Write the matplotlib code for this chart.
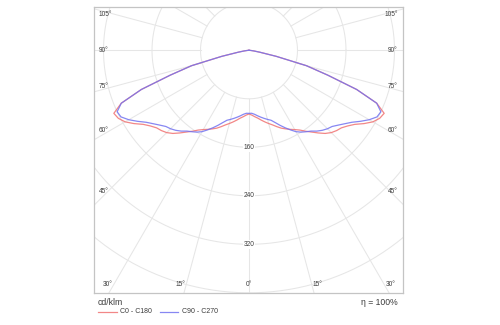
import numpy as np
import matplotlib
matplotlib.use("Agg")
import matplotlib.pyplot as plt
from matplotlib import font_manager
from matplotlib.lines import Line2D

# Luminous intensity distribution (cd/klm), half-planes are symmetric
gamma = [0, 2.5, 5, 7.5, 10, 12.5, 15, 17.5, 20, 22.5, 25, 27.5, 30, 32.5,
         35, 37.5, 40, 42.5, 45, 47.5, 50, 52.5, 55, 57.5, 60, 62.5, 65,
         67.5, 70, 72.5, 75, 77.5, 80, 82.5, 85, 87.5, 90]
i_c0_c180 = [105, 107, 110, 113, 117, 121, 125, 129, 134, 139, 143, 147, 151,
             156, 163, 170, 178, 186, 192, 196, 199, 205, 213, 225, 236, 243,
             246, 228, 189, 136, 98, 46, 18, 8, 3, 1, 0]
i_c90_c270 = [104, 104, 106, 109, 112, 115, 118, 121, 127, 134, 141, 148, 155,
              160, 164, 168, 174, 179, 183, 186, 192, 199, 207, 218, 229, 238,
              240, 228, 189, 136, 98, 46, 18, 8, 3, 1, 0]

ring_values = [80, 160, 240, 320, 400]
ring_labels = [160, 240, 320]
angle_step = 15
side_angles = [105, 90, 75, 60, 45]
bottom_angles = [30, 15, 0]
unit_label = "cd/klm"
efficiency_label = "η = 100%"
series_names = ["C0 - C180", "C90 - C270"]
series_colors = ["#f07272", "#7272f0"]

W, H = 500, 325
CX, CY = 249.0, 50.3          # pole position in pixels
PX = 48.5 / 80.0              # pixels per cd/klm


def pick_font(names):
    available = {f.name for f in font_manager.fontManager.ttflist}
    for n in names:
        if n in available:
            return n
    return "DejaVu Sans"


narrow = pick_font(["Liberation Sans Narrow", "Liberation Sans"])
sans = pick_font(["Liberation Sans", "DejaVu Sans"])
small_size = 5.6 if narrow == "Liberation Sans Narrow" else 4.7

fig = plt.figure(figsize=(W / 100, H / 100), dpi=100)
fig.patch.set_facecolor("white")
left, right, top, bottom = 94, 403, 7, 293
ax = fig.add_axes([left / W, 1 - bottom / H, (right - left) / W, (bottom - top) / H])
ax.set_xlim((left - CX) / PX, (right - CX) / PX)
ax.set_ylim((CY - bottom) / PX, (CY - top) / PX)
ax.set_xticks([])
ax.set_yticks([])
for s in ax.spines.values():
    s.set_color("#c4c4c4")
    s.set_linewidth(0.9)

grid_col = "#e6e6e6"
t = np.linspace(0, 2 * np.pi, 721)
for r in ring_values:
    ax.plot(r * np.cos(t), r * np.sin(t), color=grid_col, lw=0.75, zorder=1)
r_far = 1000
for a in range(0, 360, angle_step):
    th = np.deg2rad(a)
    ax.plot([ring_values[0] * np.sin(th), r_far * np.sin(th)],
            [-ring_values[0] * np.cos(th), -r_far * np.cos(th)],
            color=grid_col, lw=0.75, zorder=1)

# intensity curves, mirrored into both half-planes
g = np.deg2rad(np.array(gamma, dtype=float))
for vals, col in zip([i_c0_c180, i_c90_c270], series_colors):
    v = np.array(vals, dtype=float)
    xs = np.concatenate([-(v * np.sin(g))[::-1], (v * np.sin(g))[1:]])
    ys = np.concatenate([-(v * np.cos(g))[::-1], -(v * np.cos(g))[1:]])
    ax.plot(xs, ys, color=col, lw=0.9, alpha=0.85, zorder=3,
            solid_joinstyle="round")

txt_col = "#3a3a3a"
# ring value labels on the vertical axis
for r in ring_labels:
    ax.text(0, -r, str(r), ha="center", va="center", fontsize=small_size,
            family=narrow, color=txt_col, zorder=4,
            bbox=dict(boxstyle="square,pad=0.15", fc="white", ec="none"))

# angle labels along the frame
x_ref = (left + 11 - CX) / PX
shift = 2.5 / PX
for a in side_angles:
    y = -abs(x_ref) / np.tan(np.deg2rad(a)) if a != 90 else 0.0
    if a < 90:
        y += shift
    elif a > 90:
        y -= shift
    ax.text((left + 5 - CX) / PX, y, f"{a}°", ha="left", va="center",
            fontsize=small_size, family=narrow, color=txt_col, zorder=4)
    ax.text((right - 5 - CX) / PX, y, f"{a}°", ha="right", va="center",
            fontsize=small_size, family=narrow, color=txt_col, zorder=4)

y_ref = (CY - 285) / PX
for a in bottom_angles:
    xl = abs(y_ref) * np.tan(np.deg2rad(a))
    off = 6 / PX if a > 0 else 0.0
    for sgn in ([-1, 1] if a > 0 else [1]):
        ax.text(sgn * (xl + off), y_ref, f"{a}°", ha="center", va="center",
                fontsize=small_size, family=narrow, color=txt_col, zorder=4)

# footer: unit, efficiency and legend
fig.text(98 / W, 1 - 302.7 / H, unit_label, ha="left", va="center",
         fontsize=6.2, family=sans, color=txt_col)
fig.text(398 / W, 1 - 302.7 / H, efficiency_label, ha="right", va="center",
         fontsize=6.2, family=sans, color=txt_col)
leg_y = 1 - 311.7 / H
for (x0, x1, xt), name, col in zip([(98, 117, 119.5), (160, 178, 182)],
                                   series_names, series_colors):
    fig.add_artist(Line2D([x0 / W, x1 / W], [leg_y, leg_y], color=col, lw=0.9,
                          alpha=0.85, transform=fig.transFigure))
    fig.text(xt / W, leg_y, name, ha="left", va="center", fontsize=5.0,
             family=sans, color=txt_col)

fig.savefig("out.png", dpi=100)
